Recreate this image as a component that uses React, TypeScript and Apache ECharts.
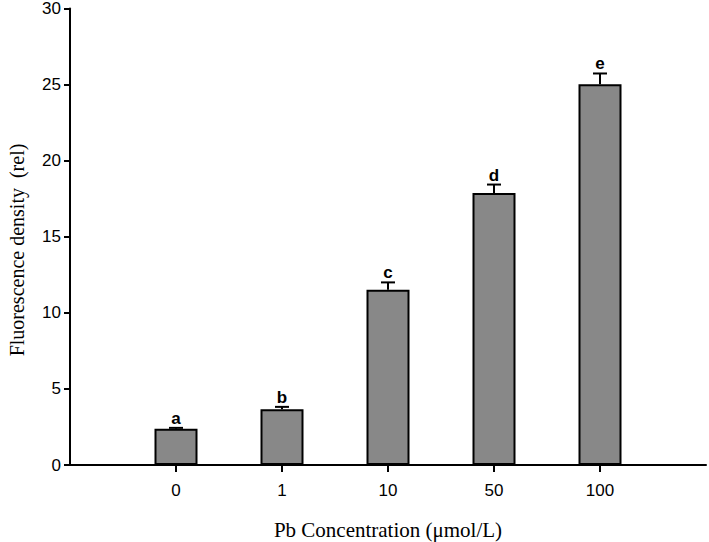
import React, { useEffect, useRef } from "react";
import * as echarts from "echarts";

const categories = ["", "0", "1", "10", "50", "100", ""];
const means = [2.38, 3.67, 11.52, 17.88, 25.03];
const errors = [0.06, 0.15, 0.48, 0.55, 0.7];
const letters = ["a", "b", "c", "d", "e"];
const yTicks = [0, 5, 10, 15, 20, 25, 30];

export default function App() {
  const ref = useRef<HTMLDivElement>(null);
  useEffect(() => {
    if (!ref.current) return;
    const chart = echarts.init(ref.current, null, { renderer: "svg" });
    const barData: any[] = categories.map((c, i) =>
      i >= 1 && i <= means.length ? means[i - 1] : "-"
    );
    const errData = means.map((m, i) => [i + 1, m, errors[i], letters[i]]);
    chart.setOption({
      animation: false,
      backgroundColor: "#ffffff",
      grid: { left: 70, right: 3, top: 7.5, bottom: 77 },
      xAxis: {
        type: "category",
        data: categories,
        boundaryGap: false,
        axisLine: { lineStyle: { color: "#000", width: 2 } },
        axisTick: {
          show: true,
          length: 7,
          inside: false,
          interval: (i: number) => i > 0 && i < categories.length - 1,
          lineStyle: { color: "#000", width: 2 },
        },
        axisLabel: {
          color: "#000",
          fontSize: 17,
          fontFamily: "Liberation Sans, Arial, sans-serif",
          margin: 17,
          interval: 0,
        },
        splitLine: { show: false },
      },
      yAxis: {
        type: "value",
        min: yTicks[0],
        max: yTicks[yTicks.length - 1],
        interval: 5,
        axisLine: { show: true, lineStyle: { color: "#000", width: 2 } },
        axisTick: { show: true, length: 6, lineStyle: { color: "#000", width: 2 } },
        axisLabel: {
          color: "#000",
          fontSize: 17,
          fontFamily: "Liberation Sans, Arial, sans-serif",
          margin: 9,
        },
        splitLine: { show: false },
      },
      series: [
        {
          type: "bar",
          data: barData,
          barWidth: 43,
          itemStyle: { color: "#888888", borderColor: "#000", borderWidth: 2 },
          z: 2,
        },
        {
          type: "custom",
          data: errData,
          z: 3,
          renderItem: (params: any, api: any) => {
            const x = api.value(0);
            const m = api.value(1);
            const e = api.value(2);
            const letter = letters[params.dataIndex];
            const top = api.coord([x, m + e]);
            const base = api.coord([x, m]);
            const half = 7;
            return {
              type: "group",
              children: [
                {
                  type: "line",
                  shape: { x1: base[0], y1: base[1], x2: top[0], y2: top[1] },
                  style: { stroke: "#000", lineWidth: 2 },
                },
                {
                  type: "line",
                  shape: { x1: top[0] - half, y1: top[1], x2: top[0] + half, y2: top[1] },
                  style: { stroke: "#000", lineWidth: 2 },
                },
                {
                  type: "text",
                  x: top[0],
                  y: top[1] - 1,
                  style: {
                    text: letter,
                    fill: "#000",
                    fontSize: 17,
                    fontWeight: "bold",
                    fontFamily: "Liberation Sans, Arial, sans-serif",
                    textAlign: "center",
                    textVerticalAlign: "bottom",
                  },
                },
              ],
            };
          },
        },
      ],
      graphic: [
        {
          type: "text",
          x: 17,
          y: 250,
          rotation: Math.PI / 2,
          style: {
            text: "Fluorescence density  (rel)",
            fill: "#000",
            fontSize: 20,
            fontFamily: "Liberation Serif, Times New Roman, serif",
            textAlign: "center",
            textVerticalAlign: "middle",
          },
        },
        {
          type: "text",
          x: 388,
          y: 530,
          style: {
            text: "Pb Concentration (\u03bcmol/L)",
            fill: "#000",
            fontSize: 21,
            fontFamily: "Liberation Serif, Times New Roman, serif",
            textAlign: "center",
            textVerticalAlign: "middle",
          },
        },
      ],
    });
    return () => chart.dispose();
  }, []);
  return (
    <div style={{ position: "absolute", left: 0, top: 0 }}>
      <div ref={ref} style={{ width: 709, height: 542 }} />
    </div>
  );
}
